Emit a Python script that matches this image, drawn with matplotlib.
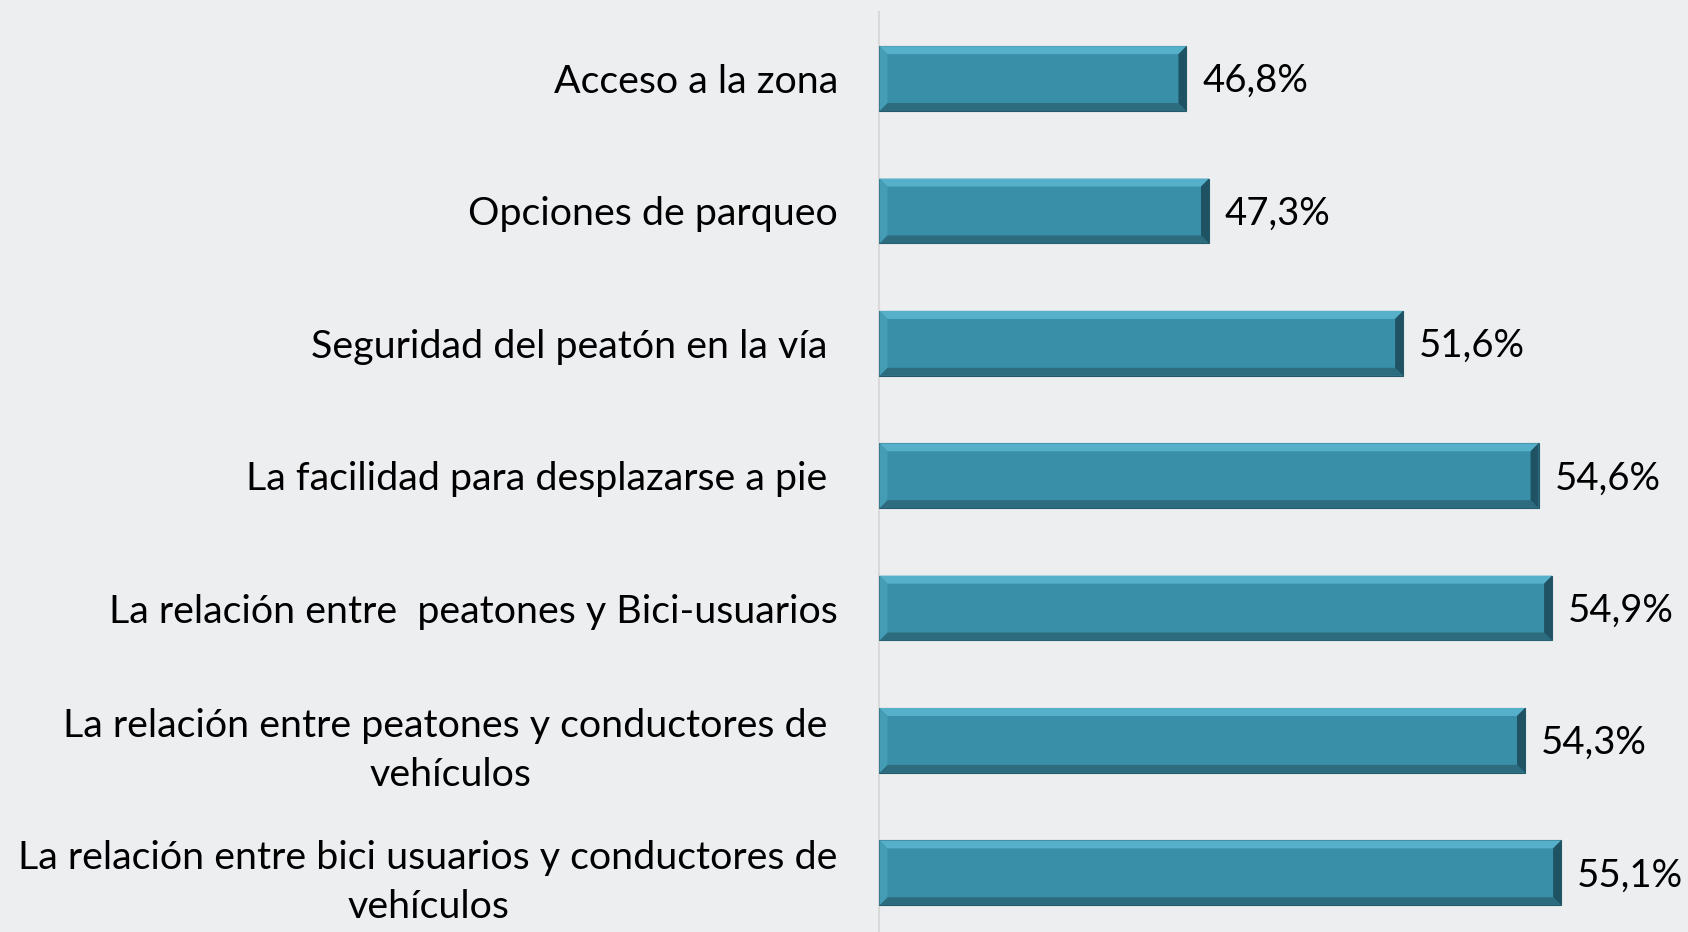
import matplotlib
matplotlib.use('Agg')
import matplotlib.pyplot as plt
from matplotlib.patches import Polygon
import numpy as np

categories = [
    'Acceso a la zona',
    'Opciones de parqueo',
    'Seguridad del peatón en la vía ',
    'La facilidad para desplazarse a pie ',
    'La relación entre  peatones y Bici-usuarios',
    'La relación entre peatones y conductores de \nvehículos',
    'La relación entre bici usuarios y conductores de\nvehículos',
]
values = [46.8, 47.3, 51.6, 54.6, 54.9, 54.3, 55.1]
value_labels = ['46,8%', '47,3%', '51,6%', '54,6%', '54,9%', '54,3%', '55,1%']

bg = '#EDEEF0'
bar_color = '#3A8FA8'
plt.rcParams['font.family'] = ['Lato', 'DejaVu Sans']

fig = plt.figure(figsize=(16.88, 9.32), dpi=100, facecolor=bg)
ax = fig.add_axes([0.521, -0.0075, 0.479, 0.9942], facecolor=bg)

y = np.arange(len(categories))
bar_h = 0.49
x0 = 40
x1 = 57.91
ax.set_xlim(x0, x1)
ax.set_ylim(len(categories) - 0.5, -0.5)

ax.barh(y, np.array(values) - x0, left=x0, height=bar_h, color=bar_color,
        edgecolor='#24596A', linewidth=0.8, zorder=2)

# bevel effect: convert a few pixels into data units
ax_w = fig.get_figwidth() * fig.dpi * 0.479
ax_h = fig.get_figheight() * fig.dpi * 0.9942
bev = 8
dx = bev * (x1 - x0) / ax_w
dy = bev * len(categories) / ax_h
for yi, v, lab in zip(y, values, value_labels):
    top, bot = yi - bar_h / 2, yi + bar_h / 2
    # top highlight
    ax.add_patch(Polygon([(x0, top), (v, top), (v - dx, top + dy), (x0 + dx, top + dy)],
                         closed=True, color='#57B0C9', lw=0, zorder=3))
    # bottom shade
    ax.add_patch(Polygon([(x0, bot), (v, bot), (v - dx, bot - dy), (x0 + dx, bot - dy)],
                         closed=True, color='#2D6C7F', lw=0, zorder=3))
    # right shade
    ax.add_patch(Polygon([(v, top), (v, bot), (v - dx, bot - dy), (v - dx, top + dy)],
                         closed=True, color='#1F5262', lw=0, zorder=3))
    # left light
    ax.add_patch(Polygon([(x0, top), (x0, bot), (x0 + dx, bot - dy), (x0 + dx, top + dy)],
                         closed=True, color='#459CB5', lw=0, zorder=3))
    ax.text(v + 16 * (x1 - x0) / ax_w, yi + 0.02, lab,
            va='center', ha='left', fontsize=27.5, color='black')

ax.set_yticks(y)
ax.set_yticklabels(categories, fontsize=28.4, multialignment='center', linespacing=1.45)
ax.tick_params(axis='y', length=0, pad=30)
ax.set_xticks([])
for s in ['top', 'right', 'bottom']:
    ax.spines[s].set_visible(False)
ax.spines['left'].set_color('#D9D9D9')
ax.spines['left'].set_linewidth(1.5)
ax.spines['left'].set_zorder(1)

fig.savefig('out.png', dpi=100, facecolor=bg)
